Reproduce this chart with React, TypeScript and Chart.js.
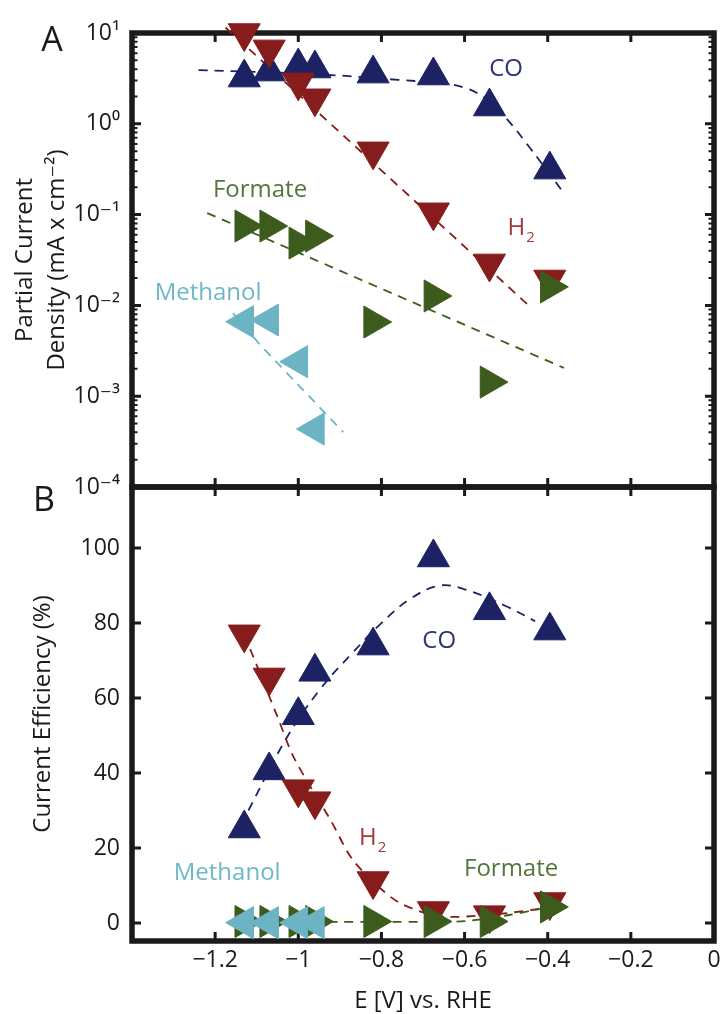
import React, { useEffect, useRef } from "react";
import { Chart, registerables } from "chart.js";
Chart.register(...registerables);

const FONT = "'Open Sans', 'DejaVu Sans', sans-serif";
const INK = "#1a1a1a";
const NAVY = "#1c2263";
const RED = "#861c1c";
const GREEN = "#3d5b1d";
const CYAN = "#6cb3c4";

// ---- shared x values (potential, V vs RHE)
const potentials = [-1.13, -1.07, -1.0, -0.96, -0.82, -0.675, -0.54, -0.395];
const methanolPotentials = [-1.13, -1.07, -1.0, -0.96];

// ---- axis ticks
const xTickValues = [-1.2, -1.0, -0.8, -0.6, -0.4, -0.2, 0];
const xTickLabels = ["\u22121.2", "\u22121", "\u22120.8", "\u22120.6", "\u22120.4", "\u22120.2", "0"];
const yTickValuesA = [1e-4, 1e-3, 1e-2, 1e-1, 1, 10];
const yTickLabelsA = ["10\u207B\u2074", "10\u207B\u00B3", "10\u207B\u00B2", "10\u207B\u00B9", "10\u2070", "10\u00B9"];
const yTickValuesB = [0, 20, 40, 60, 80, 100];
const yTickLabelsB = ["0", "20", "40", "60", "80", "100"];

// ---- Panel A: partial current density (mA cm^-2)
const coCurrent = [3.23, 3.76, 4.27, 4.06, 3.57, 3.4, 1.55, 0.313];
const h2Current = [10.0, 6.6, 2.86, 1.91, 0.497, 0.106, 0.029, 0.0193];
const formateCurrent = [0.0748, 0.0748, 0.0486, 0.058, 0.00656, 0.0127, 0.00143, 0.016];
const methanolCurrent = [0.00662, 0.0069, 0.0024, 0.000435];

// Panel A dashed trend lines
const coFitAx = [-1.24, -0.95, -0.76, -0.66, -0.6, -0.55, -0.5, -0.45, -0.36];
const coFitAy = [3.9, 3.5, 3.05, 2.8, 2.5, 1.9, 1.15, 0.6, 0.17];
const h2FitAx = [-1.175, -0.447];
const h2FitAy = [11.5, 0.0101];
const formateFitAx = [-1.219, -0.361];
const formateFitAy = [0.104, 0.00205];
const methanolFitAx = [-1.157, -1.09, -0.892];
const methanolFitAy = [0.00824, 0.0036, 0.000403];

// ---- Panel B: current efficiency (%)
const coEff = [25.2, 40.7, 55.4, 67, 74, 97.5, 83.4, 78];
const h2Eff = [77, 65.5, 35.7, 32.5, 11.2, 3.2, 2.1, 5.6];
const formateEff = [0.4, 0.4, 0.4, 0.4, 0.4, 0.4, 0.4, 4.3];
const methanolEff = [0.1, 0.1, 0.1, 0.1];

// Panel B dashed trend lines
const coFitBx = [-1.12, -1.03, -0.95, -0.87, -0.8, -0.73, -0.66, -0.6, -0.5, -0.43];
const coFitBy = [30, 49, 62, 72, 80, 86.5, 90, 89, 84.5, 80.5];
const h2FitBx = [-1.13, -1.05, -1.01, -0.92, -0.87, -0.8, -0.75, -0.66, -0.55, -0.43, -0.4];
const h2FitBy = [77, 55, 44, 27, 17, 9, 5, 1.8, 2.1, 3.6, 4.5];
const formateFitBx = [-1.12, -0.9, -0.7, -0.6, -0.5, -0.43, -0.39];
const formateFitBy = [0.3, 0.3, 0.3, 0.5, 2, 3.5, 4.3];
const methanolFitBx = [-1.13, -0.95];
const methanolFitBy = [0.1, 0.1];

const pts = (xs: number[], ys: number[]) => ys.map((y, i) => ({ x: xs[i], y }));

const markers = (label: string, xs: number[], ys: number[], color: string, rotation: number) => ({
  label,
  data: pts(xs, ys),
  showLine: false,
  pointStyle: "triangle",
  pointRotation: rotation,
  pointRadius: 18.5,
  pointHoverRadius: 18.5,
  pointBackgroundColor: color,
  pointBorderColor: color,
  pointBorderWidth: 1,
  clip: false,
});

const trend = (label: string, xs: number[], ys: number[], color: string, tension: number) => ({
  label,
  data: pts(xs, ys),
  showLine: true,
  pointRadius: 0,
  borderColor: color,
  borderWidth: 1.8,
  borderDash: [9, 7],
  tension,
  fill: false,
  clip: false,
});

type Label = { text: string; sub?: string; x: number; y: number; color: string };
type Deco = {
  id: string;
  xTop: boolean;
  xBottom: boolean;
  yTicks: number[];
  logMinor: boolean;
  labels: Label[];
  letter: { text: string; x: number; y: number };
};

const decoPlugin = (cfg: Deco) => ({
  id: cfg.id,
  beforeDatasetsDraw(chart: any) {
    const { ctx, chartArea, scales } = chart;
    const { left, top, right, bottom } = chartArea;
    const xs = scales.x;
    const ys = scales.y;
    ctx.save();
    ctx.strokeStyle = INK;
    ctx.lineCap = "butt";
    ctx.lineWidth = 3;
    ctx.beginPath();
    for (const v of xTickValues) {
      const px = xs.getPixelForValue(v);
      if (px <= left + 3 || px >= right - 3) continue;
      if (cfg.xTop) {
        ctx.moveTo(px, top);
        ctx.lineTo(px, top + 9);
      }
      if (cfg.xBottom) {
        ctx.moveTo(px, bottom);
        ctx.lineTo(px, bottom - 9);
      }
    }
    for (const v of cfg.yTicks) {
      const py = ys.getPixelForValue(v);
      if (py <= top + 3 || py >= bottom - 3) continue;
      ctx.moveTo(left, py);
      ctx.lineTo(left + 9, py);
      ctx.moveTo(right, py);
      ctx.lineTo(right - 9, py);
    }
    ctx.stroke();
    if (cfg.logMinor) {
      ctx.lineWidth = 2;
      ctx.beginPath();
      for (let i = 0; i < cfg.yTicks.length - 1; i++) {
        const base = cfg.yTicks[i];
        for (let m = 2; m <= 9; m++) {
          const py = ys.getPixelForValue(base * m);
          ctx.moveTo(left, py);
          ctx.lineTo(left + 5.5, py);
          ctx.moveTo(right, py);
          ctx.lineTo(right - 5.5, py);
        }
      }
      ctx.stroke();
    }
    ctx.lineWidth = 5.5;
    ctx.strokeRect(left, top, right - left, bottom - top);
    ctx.restore();
  },
  afterDatasetsDraw(chart: any) {
    const { ctx, scales } = chart;
    ctx.save();
    ctx.textBaseline = "middle";
    for (const l of cfg.labels) {
      const cx = scales.x.getPixelForValue(l.x);
      const cy = scales.y.getPixelForValue(l.y);
      ctx.fillStyle = l.color;
      ctx.font = `24px ${FONT}`;
      if (l.sub) {
        const w1 = ctx.measureText(l.text).width;
        ctx.font = `15px ${FONT}`;
        const w2 = ctx.measureText(l.sub).width;
        const start = cx - (w1 + w2 + 1) / 2;
        ctx.textAlign = "left";
        ctx.font = `24px ${FONT}`;
        ctx.fillText(l.text, start, cy);
        ctx.font = `15px ${FONT}`;
        ctx.fillText(l.sub, start + w1 + 1, cy + 10);
      } else {
        ctx.textAlign = "center";
        ctx.fillText(l.text, cx, cy);
      }
    }
    ctx.fillStyle = INK;
    ctx.textAlign = "center";
    ctx.font = `34px ${FONT}`;
    ctx.fillText(cfg.letter.text, cfg.letter.x, cfg.letter.y);
    ctx.restore();
  },
});

const fixBox = (w?: number, h?: number) => (s: any) => {
  if (w !== undefined) s.width = w;
  if (h !== undefined) s.height = h;
  s.paddingLeft = 0;
  s.paddingRight = 0;
  s.paddingTop = 0;
  s.paddingBottom = 0;
};

const setTicks = (values: number[]) => (s: any) => {
  s.ticks = values.map((v) => ({ value: v }));
};

const tickFont = { family: FONT, size: 23 };
const titleFont = { family: FONT, size: 24 };

function buildTop(canvas: HTMLCanvasElement) {
  return new Chart(canvas, {
    type: "scatter",
    data: {
      datasets: [
        markers("Methanol", methanolPotentials, methanolCurrent, CYAN, 270),
        markers("Formate", potentials, formateCurrent, GREEN, 90),
        markers("H2", potentials, h2Current, RED, 180),
        markers("CO", potentials, coCurrent, NAVY, 0),
        trend("Methanol fit", methanolFitAx, methanolFitAy, CYAN, 0),
        trend("Formate fit", formateFitAx, formateFitAy, GREEN, 0),
        trend("H2 fit", h2FitAx, h2FitAy, RED, 0),
        trend("CO fit", coFitAx, coFitAy, NAVY, 0.4),
      ] as any,
    },
    options: {
      animation: false,
      responsive: false,
      maintainAspectRatio: false,
      events: [],
      layout: { autoPadding: false, padding: { top: 33, right: 8, left: 0, bottom: 0 } },
      plugins: { legend: { display: false }, tooltip: { enabled: false } },
      scales: {
        x: {
          type: "linear",
          min: -1.4,
          max: 0,
          ticks: { display: false },
          grid: { display: false, drawTicks: false },
          border: { display: false },
          afterBuildTicks: setTicks(xTickValues),
          afterFit: fixBox(undefined, 13),
        },
        y: {
          type: "logarithmic",
          min: 1e-4,
          max: 10,
          ticks: {
            font: tickFont,
            color: INK,
            padding: 12,
            callback: (v: any) => {
              const i = yTickValuesA.findIndex((t) => Math.abs(Math.log10(t) - Math.log10(Number(v))) < 1e-6);
              return i >= 0 ? yTickLabelsA[i] : "";
            },
          },
          grid: { display: false, drawTicks: false },
          border: { display: false },
          title: {
            display: true,
            text: ["Partial Current", "Density (mA x cm\u207B\u00B2)"],
            font: { ...titleFont, lineHeight: 1.35 },
            color: INK,
            padding: { top: 9, bottom: 0 },
          },
          afterBuildTicks: setTicks(yTickValuesA),
          afterFit: fixBox(132, undefined),
        },
      },
    } as any,
    plugins: [
      decoPlugin({
        id: "decoA",
        xTop: true,
        xBottom: true,
        yTicks: yTickValuesA,
        logMinor: true,
        labels: [
          { text: "CO", x: -0.5, y: 4.02, color: "#2c3272" },
          { text: "H", sub: "2", x: -0.464, y: 0.0711, color: "#a43a36" },
          { text: "Formate", x: -1.092, y: 0.1866, color: "#55763a" },
          { text: "Methanol", x: -1.217, y: 0.01371, color: "#6eb8c8" },
        ],
        letter: { text: "A", x: 52, y: 41 },
      }),
    ],
  });
}

function buildBottom(canvas: HTMLCanvasElement) {
  return new Chart(canvas, {
    type: "scatter",
    data: {
      datasets: [
        markers("Methanol", methanolPotentials, methanolEff, CYAN, 270),
        markers("Formate", potentials, formateEff, GREEN, 90),
        markers("H2", potentials, h2Eff, RED, 180),
        markers("CO", potentials, coEff, NAVY, 0),
        trend("Methanol fit", methanolFitBx, methanolFitBy, CYAN, 0),
        trend("Formate fit", formateFitBx, formateFitBy, GREEN, 0.3),
        trend("H2 fit", h2FitBx, h2FitBy, RED, 0.3),
        trend("CO fit", coFitBx, coFitBy, NAVY, 0.4),
      ] as any,
    },
    options: {
      animation: false,
      responsive: false,
      maintainAspectRatio: false,
      events: [],
      layout: { autoPadding: false, padding: { top: 17, right: 8, left: 0, bottom: 0 } },
      plugins: { legend: { display: false }, tooltip: { enabled: false } },
      scales: {
        x: {
          type: "linear",
          min: -1.4,
          max: 0,
          ticks: {
            font: tickFont,
            color: INK,
            padding: 6,
            maxRotation: 0,
            autoSkip: false,
            callback: (_v: any, i: number) => xTickLabels[i],
          },
          grid: { display: false, drawTicks: false },
          border: { display: false },
          title: {
            display: true,
            text: "E [V] vs. RHE",
            font: { ...titleFont, lineHeight: 1.2 },
            color: INK,
            padding: { top: 0, bottom: -2 },
          },
          afterBuildTicks: setTicks(xTickValues),
          afterFit: fixBox(undefined, 73),
        },
        y: {
          type: "linear",
          min: -4.8,
          max: 116.3,
          ticks: {
            font: tickFont,
            color: INK,
            padding: 12,
            callback: (_v: any, i: number) => yTickLabelsB[i],
          },
          grid: { display: false, drawTicks: false },
          border: { display: false },
          title: {
            display: true,
            text: "Current Efficiency (%)",
            font: { ...titleFont, lineHeight: 1.35 },
            color: INK,
            padding: { top: 27, bottom: 0 },
          },
          afterBuildTicks: setTicks(yTickValuesB),
          afterFit: fixBox(132, undefined),
        },
      },
    } as any,
    plugins: [
      decoPlugin({
        id: "decoB",
        xTop: true,
        xBottom: true,
        yTicks: yTickValuesB,
        logMinor: false,
        labels: [
          { text: "CO", x: -0.661, y: 75.2, color: "#2c3272" },
          { text: "H", sub: "2", x: -0.821, y: 22.7, color: "#a43a36" },
          { text: "Formate", x: -0.488, y: 14.4, color: "#55763a" },
          { text: "Methanol", x: -1.171, y: 13.3, color: "#6eb8c8" },
        ],
        letter: { text: "B", x: 44, y: 31 },
      }),
    ],
  });
}

export default function App() {
  const topRef = useRef<HTMLCanvasElement | null>(null);
  const botRef = useRef<HTMLCanvasElement | null>(null);
  useEffect(() => {
    const a = buildTop(topRef.current as HTMLCanvasElement);
    const b = buildBottom(botRef.current as HTMLCanvasElement);
    return () => {
      a.destroy();
      b.destroy();
    };
  }, []);
  return (
    <div style={{ position: "absolute", left: 0, top: 0, width: 722, height: 1014, background: "#fff", overflow: "hidden" }}>
      <canvas ref={topRef} width={722} height={500} style={{ position: "absolute", left: 0, top: 0, width: 722, height: 500 }} />
      <canvas ref={botRef} width={722} height={544} style={{ position: "absolute", left: 0, top: 470, width: 722, height: 544 }} />
    </div>
  );
}
